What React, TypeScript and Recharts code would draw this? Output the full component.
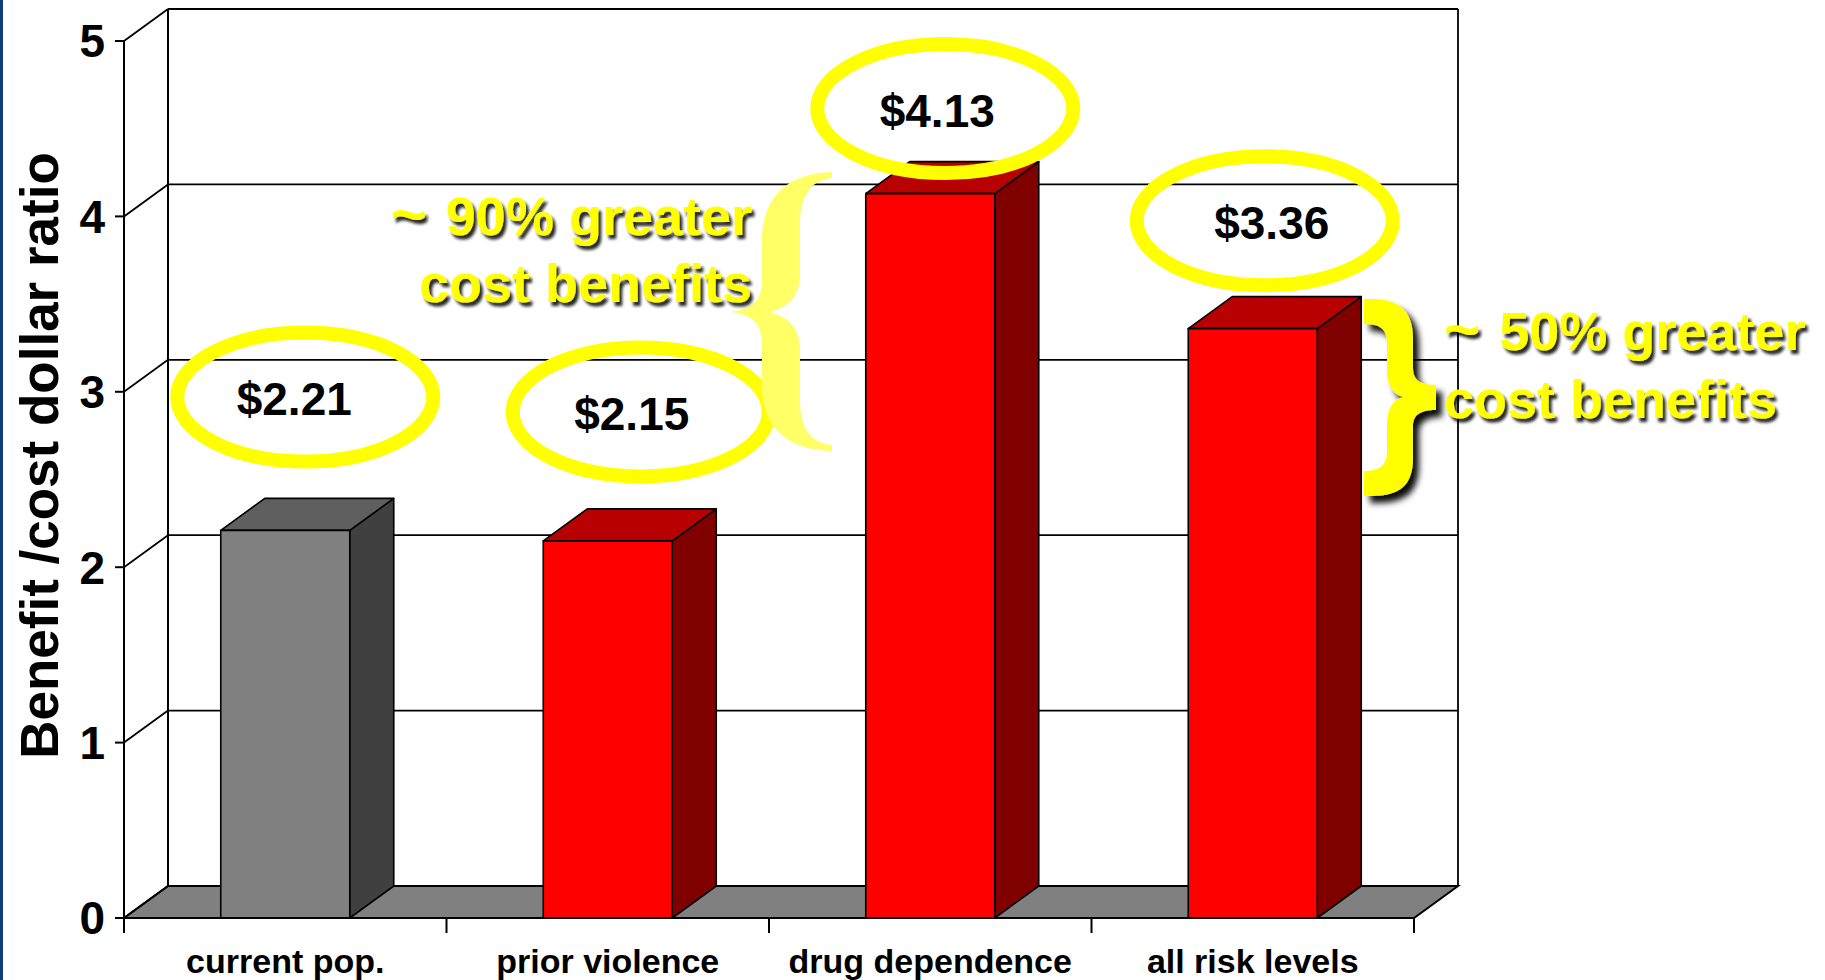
import React from 'react';
import {
  BarChart, Bar, XAxis, YAxis, CartesianGrid, ReferenceDot,
} from 'recharts';

// ── Datos ────────────────────────────────────────────────────────────────────
const CATEGORIES = ['current pop.', 'prior violence', 'drug dependence', 'all risk levels'];
const RATIOS     = [2.21, 2.15, 4.13, 3.36];
const Y_TICKS    = [0, 1, 2, 3, 4, 5];
const Y_TITLE    = 'Benefit /cost dollar ratio';
const BASE_CATEGORY = 'current pop.';

// óvalos amarillos: centro en unidades del eje Y + desplazamientos en px
const BUBBLE_Y   = [2.97, 2.885, 4.615, 3.975];
const BUBBLE_DX  = [20, 33, 15, 12];
const BUBBLE_TDX = [-11, -9, -8, 7];

const NOTE_LEFT  = ['~', '90% greater', 'cost benefits'];
const NOTE_RIGHT = ['~', '50% greater', 'cost benefits'];

// ── Estilo ───────────────────────────────────────────────────────────────────
const FONT = '"Liberation Sans", Arial, Helvetica, sans-serif';
const W = 1825;
const H = 980;
const DX = 44;   // profundidad 3D
const DY = -32;

const RED  = { front: '#FF0000', top: '#B80000', side: '#800000' };
const GRAY = { front: '#808080', top: '#5F5F5F', side: '#404040' };

const rows = CATEGORIES.map((name, i) => ({ name, ratio: RATIOS[i] }));

// ── Pared de fondo, suelo y rejilla (a partir de las líneas de CartesianGrid) ─
const renderGridLine = (p: any) => {
  const { x1, y1, x2, y, height } = p;
  const bottom = y + height;
  const isTop = Math.abs(y1 - y) < 0.5;
  const isBottom = Math.abs(y1 - bottom) < 0.5;
  const bx1 = x1 + DX;
  const bx2 = x2 + DX;
  const by = y1 + DY;
  return (
    <g key={p.key}>
      {isBottom && (
        <polygon
          points={`${x1},${y1} ${x2},${y1} ${bx2},${by} ${bx1},${by}`}
          fill="#808080"
          stroke="#000"
          strokeWidth={2}
        />
      )}
      <line x1={x1} y1={y1} x2={bx1} y2={by} stroke="#000" strokeWidth={1.8} />
      <line x1={bx1} y1={by} x2={bx2} y2={by} stroke="#000" strokeWidth={1.8} />
      {isTop && (
        <>
          <line x1={bx1} y1={by} x2={bx1} y2={bottom + DY} stroke="#000" strokeWidth={2} />
          <line x1={bx2} y1={by} x2={bx2} y2={bottom + DY} stroke="#000" strokeWidth={1.8} />
        </>
      )}
    </g>
  );
};

// ── Barra en 3D ──────────────────────────────────────────────────────────────
const Box3D = (props: any) => {
  const { x, y, width, height, payload } = props;
  if (width == null || height == null) return null;
  const c = payload?.name === BASE_CATEGORY ? GRAY : RED;
  const x2 = x + width;
  const yb = y + height;
  return (
    <g stroke="#000" strokeWidth={1.6} strokeLinejoin="round">
      <polygon points={`${x2},${y} ${x2 + DX},${y + DY} ${x2 + DX},${yb + DY} ${x2},${yb}`} fill={c.side} />
      <polygon points={`${x},${y} ${x2},${y} ${x2 + DX},${y + DY} ${x + DX},${y + DY}`} fill={c.top} />
      <rect x={x} y={y} width={width} height={height} fill={c.front} />
    </g>
  );
};

// ── Etiqueta de categoría + marcas en los límites de cada banda ─────────────
const CategoryTick = (props: any) => {
  const { x, payload, index, visibleTicksCount } = props;
  const half = payload?.offset || 161;
  const yTop = 918;
  return (
    <g>
      <line x1={x - half} y1={yTop} x2={x - half} y2={yTop + 15} stroke="#000" strokeWidth={2} />
      {index === visibleTicksCount - 1 && (
        <line x1={x + half} y1={yTop} x2={x + half} y2={yTop + 15} stroke="#000" strokeWidth={2} />
      )}
      <text
        x={x}
        y={973}
        textAnchor="middle"
        fontFamily={FONT}
        fontWeight={700}
        fontSize={34}
        fill="#000"
      >
        {payload.value}
      </text>
    </g>
  );
};

const renderYTitle = (props: any) => {
  const vb = props.viewBox || { x: 24, y: 41, width: 100, height: 877 };
  const cx = vb.x + 34;
  const cy = vb.y + vb.height / 2 - 24;
  return (
    <text
      transform={`translate(${cx}, ${cy}) rotate(-90)`}
      textAnchor="middle"
      fontFamily={FONT}
      fontWeight={700}
      fontSize={53}
      fill="#000"
    >
      {Y_TITLE}
    </text>
  );
};

// ── Óvalo amarillo con el valor ──────────────────────────────────────────────
const Bubble = ({ cx, cy, dx, tdx, text }: any) => {
  if (cx == null || cy == null) return null;
  return (
    <g>
      <ellipse
        cx={cx + dx}
        cy={cy}
        rx={128}
        ry={64.5}
        fill="none"
        stroke="#FFFF00"
        strokeWidth={14}
      />
      <text
        x={cx + dx + tdx}
        y={cy + 18}
        textAnchor="middle"
        fontFamily={FONT}
        fontWeight={700}
        fontSize={46}
        fill="#000"
      >
        {text}
      </text>
    </g>
  );
};

const LEFT_BRACE =
  'M 832 172 C 790 173, 762 195, 762 240 L 762 280 C 762 300, 753 309, 731 312 ' +
  'C 753 315, 762 324, 762 345 L 762 385 C 762 430, 790 450, 832 451 ' +
  'L 832 445 C 812 443, 800 430, 800 400 L 800 350 C 800 330, 791 318, 770 312 ' +
  'C 791 306, 800 294, 800 274 L 800 224 C 800 194, 812 180, 832 178 Z';

const RIGHT_BRACE =
  'M 1364 299 L 1372 299 C 1400 299, 1413 312, 1413 338 L 1413 368 ' +
  'C 1413 379, 1419 385, 1436 385 L 1436 410 C 1419 410, 1413 416, 1413 426 ' +
  'L 1413 458 C 1413 485, 1400 496, 1372 496 L 1364 496 L 1364 471 ' +
  'C 1380 471, 1387 465, 1387 451 L 1387 425 C 1387 410, 1392 400, 1403 397 ' +
  'C 1392 394, 1387 384, 1387 370 L 1387 343 C 1387 329, 1380 324, 1364 324 Z';

const noteStyle = {
  fontFamily: FONT,
  fontWeight: 700,
  fontSize: 54,
  fill: '#FFFF00',
} as const;

export default function App() {
  return (
    <div style={{ position: 'absolute', left: 0, top: 0, width: W, height: H, background: '#fff', overflow: 'hidden' }}>
      <BarChart
        width={W}
        height={H}
        data={rows}
        margin={{ top: 41, right: 411, bottom: 0, left: 24 }}
        barCategoryGap="30%"
      >
        <CartesianGrid horizontal={renderGridLine} vertical={false} fill="none" />
        <XAxis
          dataKey="name"
          height={62}
          interval={0}
          axisLine={{ stroke: '#000', strokeWidth: 2 }}
          tickLine={false}
          tick={<CategoryTick />}
        />
        <YAxis
          domain={[0, 5]}
          ticks={Y_TICKS}
          width={100}
          interval={0}
          axisLine={{ stroke: '#000', strokeWidth: 2 }}
          tickLine={{ stroke: '#000', strokeWidth: 2 }}
          tickSize={9}
          tickMargin={10}
          tick={{ fill: '#000', fontSize: 46, fontWeight: 700, fontFamily: FONT }}
          label={{ value: Y_TITLE, content: renderYTitle }}
        />
        <Bar dataKey="ratio" shape={(p: any) => <Box3D {...p} />} isAnimationActive={false} />
        {CATEGORIES.map((name, i) => (
          <ReferenceDot
            key={name}
            x={name}
            y={BUBBLE_Y[i]}
            ifOverflow="visible"
            shape={(p: any) => (
              <Bubble
                cx={p.cx}
                cy={p.cy}
                dx={BUBBLE_DX[i]}
                tdx={BUBBLE_TDX[i]}
                text={`$${RATIOS[i].toFixed(2)}`}
              />
            )}
          />
        ))}
      </BarChart>

      {/* Anotaciones: llaves y textos amarillos */}
      <svg width={W} height={H} style={{ position: 'absolute', left: 0, top: 0, pointerEvents: 'none' }}>
        <defs>
          <filter id="txtShadow" x="-10%" y="-40%" width="130%" height="180%">
            <feDropShadow dx="3" dy="4" stdDeviation="1.6" floodColor="#000" floodOpacity="0.85" />
          </filter>
          <filter id="braceShadow" x="-50%" y="-20%" width="220%" height="140%">
            <feDropShadow dx="6" dy="7" stdDeviation="3" floodColor="#000" floodOpacity="0.95" />
          </filter>
        </defs>
        <path d={LEFT_BRACE} fill="#FFFF66" />
        <path d={RIGHT_BRACE} fill="#FFFF00" filter="url(#braceShadow)" />
        <g filter="url(#txtShadow)">
          <text x={752} y={235} textAnchor="end" style={noteStyle}>
            <tspan fontSize={62}>{NOTE_LEFT[0]}</tspan>
            <tspan dx={4}>{' ' + NOTE_LEFT[1]}</tspan>
          </text>
          <text x={752} y={302} textAnchor="end" style={noteStyle}>{NOTE_LEFT[2]}</text>
          <text x={1444} y={350} style={noteStyle}>
            <tspan fontSize={62}>{NOTE_RIGHT[0]}</tspan>
            <tspan dx={4}>{' ' + NOTE_RIGHT[1]}</tspan>
          </text>
          <text x={1444} y={418} style={noteStyle}>{NOTE_RIGHT[2]}</text>
        </g>
      </svg>
      <div style={{ position: 'absolute', left: 0, top: 0, width: 3, height: H, background: '#103c78' }} />
    </div>
  );
}
